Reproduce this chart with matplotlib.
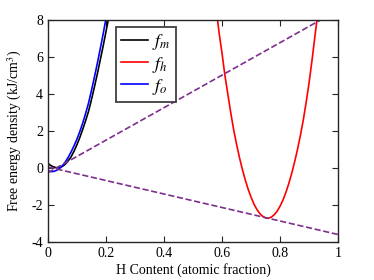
import matplotlib
matplotlib.use('Agg')
import matplotlib.pyplot as plt

plt.rcParams['font.family'] = ['Liberation Serif', 'DejaVu Serif']
plt.rcParams['mathtext.fontset'] = 'stix'
plt.rcParams['axes.unicode_minus'] = False

# f_m (black)
xm = [0, 0.01, 0.02, 0.03, 0.04, 0.05, 0.06, 0.07, 0.08, 0.09, 0.10, 0.11, 0.12,
      0.13, 0.14, 0.15, 0.16, 0.17, 0.18, 0.19, 0.20, 0.21, 0.22]
fm = [0.25, 0.13, 0.05, 0.01, 0.02, 0.08, 0.2, 0.38, 0.6, 0.9, 1.25, 1.64, 2.08,
      2.55, 3.05, 3.68, 4.35, 5.05, 5.8, 6.55, 7.35, 8.15, 9.0]

# f_o (blue)
xo = [0, 0.01, 0.02, 0.03, 0.04, 0.05, 0.06, 0.07, 0.08, 0.09, 0.10, 0.11, 0.12,
      0.13, 0.14, 0.15, 0.16, 0.17, 0.18, 0.19, 0.20, 0.21, 0.22]
fo = [-0.15, -0.2, -0.19, -0.13, -0.03, 0.12, 0.32, 0.57, 0.86, 1.19, 1.55, 1.96, 2.42,
      2.94, 3.5, 4.17, 4.88, 5.62, 6.4, 7.2, 8.05, 8.9, 9.8]

# f_h (red)
xh = [0.58, 0.59, 0.60, 0.61, 0.62, 0.63, 0.64, 0.65, 0.66, 0.67, 0.68, 0.69,
      0.70, 0.71, 0.72, 0.73, 0.74, 0.75, 0.76, 0.77, 0.78, 0.79, 0.80, 0.81,
      0.82, 0.83, 0.84, 0.85, 0.86, 0.87, 0.88, 0.89, 0.90, 0.91, 0.92, 0.93, 0.94]
fh = [8.6, 7.3, 6.2, 5.0, 4.0, 3.0, 2.07, 1.29, 0.57, -0.07, -0.64, -1.15,
      -1.58, -1.95, -2.24, -2.46, -2.62, -2.70, -2.72, -2.66, -2.53, -2.34, -2.07, -1.74,
      -1.33, -0.85, -0.31, 0.31, 0.99, 1.75, 2.58, 3.55, 4.6, 5.8, 7.1, 8.35, 9.6]

# common tangent lines
tan1_x = [0, 0.94]
tan1_y = [-0.26, 8.0]
tan2_x = [0, 1]
tan2_y = [0.05, -3.6]

purple = '#7E2F8E'

fig = plt.figure(figsize=(3.74, 2.80), dpi=100)
ax = fig.add_axes([0.128, 0.136, 0.776, 0.793])

ax.plot(xm, fm, color='k', lw=1.2, label='$f_m$')
ax.plot(xh, fh, color='r', lw=1.2, label='$f_h$')
ax.plot(xo, fo, color='b', lw=1.2, label='$f_o$')
ax.plot(tan1_x, tan1_y, '--', color=purple, lw=1.2)
ax.plot(tan2_x, tan2_y, '--', color=purple, lw=1.2)

ax.set_xlim(0, 1)
ax.set_ylim(-4, 8)
ax.set_xticks([0, 0.2, 0.4, 0.6, 0.8, 1])
ax.set_xticklabels(['0', '0.2', '0.4', '0.6', '0.8', '1'])
ax.set_yticks([-4, -2, 0, 2, 4, 6, 8])
ax.tick_params(direction='in', top=True, right=True, length=4, labelsize=10,
               color='0.15', width=0.8)
for s in ax.spines.values():
    s.set_color('0.15')
    s.set_linewidth(1.0)

ax.set_xlabel('H Content (atomic fraction)', fontsize=10, labelpad=2)
ax.set_ylabel('Free energy density (kJ/cm$^3$)', fontsize=10, labelpad=5)

leg = ax.legend(loc='upper left', bbox_to_anchor=(0.234, 0.968), borderaxespad=0,
                fontsize=13, handlelength=1.5, handletextpad=0.2,
                labelspacing=0.12, borderpad=0.3, fancybox=False, framealpha=1)
leg.get_frame().set_edgecolor('0.25')
leg.get_frame().set_linewidth(1.3)

fig.savefig('out.png', dpi=100)
